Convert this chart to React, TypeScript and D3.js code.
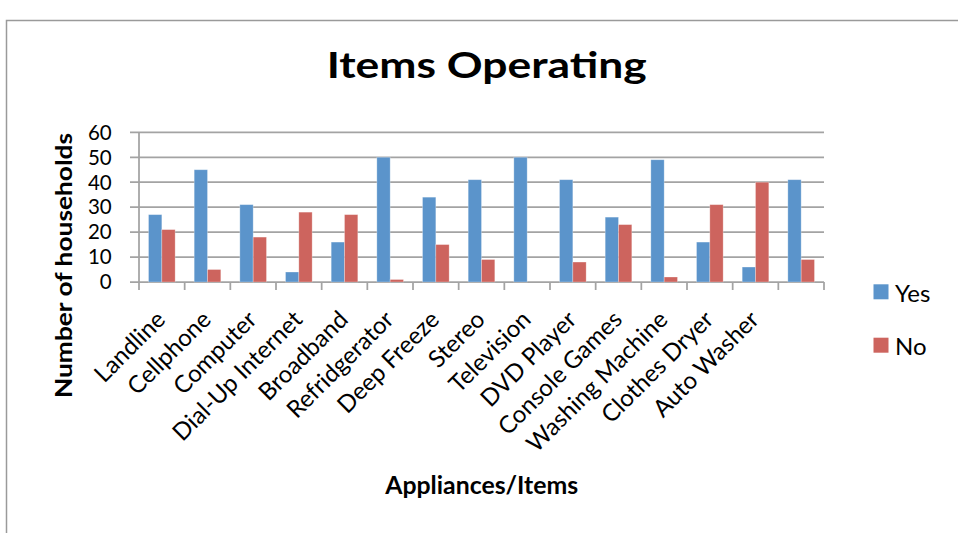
import React from "react";
import * as d3 from "d3";

const categories = [
  "Landline", "Cellphone", "Computer", "Dial-Up Internet", "Broadband",
  "Refridgerator", "Deep Freeze", "Stereo", "Television", "DVD Player",
  "Console Games", "Washing Machine", "Clothes Dryer", "Auto Washer", "",
];
const yesValues = [27, 45, 31, 4, 16, 50, 34, 41, 50, 41, 26, 49, 16, 6, 41];
const noValues = [21, 5, 18, 28, 27, 1, 15, 9, 0, 8, 23, 2, 31, 40, 9];
const yTicks = [0, 10, 20, 30, 40, 50, 60];
const seriesNames = ["Yes", "No"];
const seriesColors = ["#5b94cb", "#cd645e"];

const W = 958;
const H = 533;
const FONT = "Lato, 'Open Sans', sans-serif";

export default function App() {
  const plotLeft = 139;
  const plotRight = 824;
  const plotTop = 132.3;
  const plotBottom = 282;

  const x = d3
    .scaleBand<number>()
    .domain(categories.map((_, i) => i))
    .range([plotLeft, plotRight])
    .paddingInner(0)
    .paddingOuter(0);
  const y = d3.scaleLinear().domain([0, 60]).range([plotBottom, plotTop]);

  const band = x.bandwidth();
  const barW = band / 3.43;
  const series = [yesValues, noValues];
  const gridColor = "#a3a3a3";

  return (
    <svg
      width={W}
      height={H}
      style={{ position: "absolute", left: 0, top: 0, background: "#fff" }}
    >
      {/* chart frame */}
      <path d={`M6.5,${H} L6.5,20.5 L${W},20.5`} fill="none" stroke="#9a9a9a" strokeWidth={1.5} />

      {/* title */}
      <text
        x={486.7}
        y={77.5}
        textAnchor="middle"
        fontFamily={FONT}
        fontWeight={700}
        fontSize={36}
        textLength={320}
        lengthAdjust="spacingAndGlyphs"
        fill="#000"
      >
        Items Operating
      </text>

      {/* gridlines + y ticks */}
      {yTicks.map((t) => (
        <g key={t}>
          <line
            x1={plotLeft - 9}
            x2={plotRight}
            y1={y(t)}
            y2={y(t)}
            stroke={gridColor}
            strokeWidth={1.75}
          />
          <text
            x={111.7}
            y={y(t) + 7.3}
            textAnchor="end"
            fontFamily={FONT}
            fontSize={20.5}
            fill="#000"
          >
            {t}
          </text>
        </g>
      ))}

      {/* y axis line */}
      <line x1={plotLeft} x2={plotLeft} y1={plotTop} y2={plotBottom} stroke={gridColor} strokeWidth={1.75} />

      {/* category ticks */}
      {d3.range(categories.length + 1).map((i) => {
        const xx = i < categories.length ? (x(i) as number) : plotRight;
        return (
          <line key={i} x1={xx} x2={xx} y1={plotBottom} y2={plotBottom + 8} stroke={gridColor} strokeWidth={1.75} />
        );
      })}

      {/* bars */}
      {series.map((vals, s) =>
        vals.map((v, i) => {
          const cx = (x(i) as number) + band / 2;
          const bx = cx - barW + s * barW;
          return (
            <rect
              key={`${s}-${i}`}
              x={bx}
              y={y(v)}
              width={barW}
              height={plotBottom - y(v)}
              fill={seriesColors[s]}
              stroke="#fff"
              strokeOpacity={0.35}
              strokeWidth={0.8}
            />
          );
        })
      )}

      {/* category labels */}
      {categories.map((c, i) => {
        const cx = (x(i) as number) + band / 2;
        const px = cx + 5;
        const py = 321;
        return (
          <text
            key={i}
            x={px}
            y={py}
            transform={`rotate(-45, ${px}, ${py})`}
            textAnchor="end"
            fontFamily={FONT}
            fontSize={24}
            fill="#000"
          >
            {c}
          </text>
        );
      })}

      {/* y axis title */}
      <text
        transform="translate(72, 265.5) rotate(-90)"
        textAnchor="middle"
        fontFamily={FONT}
        fontWeight={700}
        fontSize={22}
        textLength={265}
        lengthAdjust="spacingAndGlyphs"
        fill="#000"
      >
        Number of households
      </text>

      {/* x axis title */}
      <text
        x={481.7}
        y={494}
        textAnchor="middle"
        fontFamily={FONT}
        fontWeight={700}
        fontSize={24}
        textLength={193}
        lengthAdjust="spacingAndGlyphs"
        fill="#000"
      >
        Appliances/Items
      </text>

      {/* legend */}
      {seriesNames.map((n, s) => {
        const top = 284.3 + s * 53.4;
        return (
          <g key={n}>
            <rect x={873.5} y={top} width={15} height={15} fill={seriesColors[s]} />
            <text x={895} y={top + 17.5} fontFamily={FONT} fontSize={24} fill="#000">
              {n}
            </text>
          </g>
        );
      })}
    </svg>
  );
}
